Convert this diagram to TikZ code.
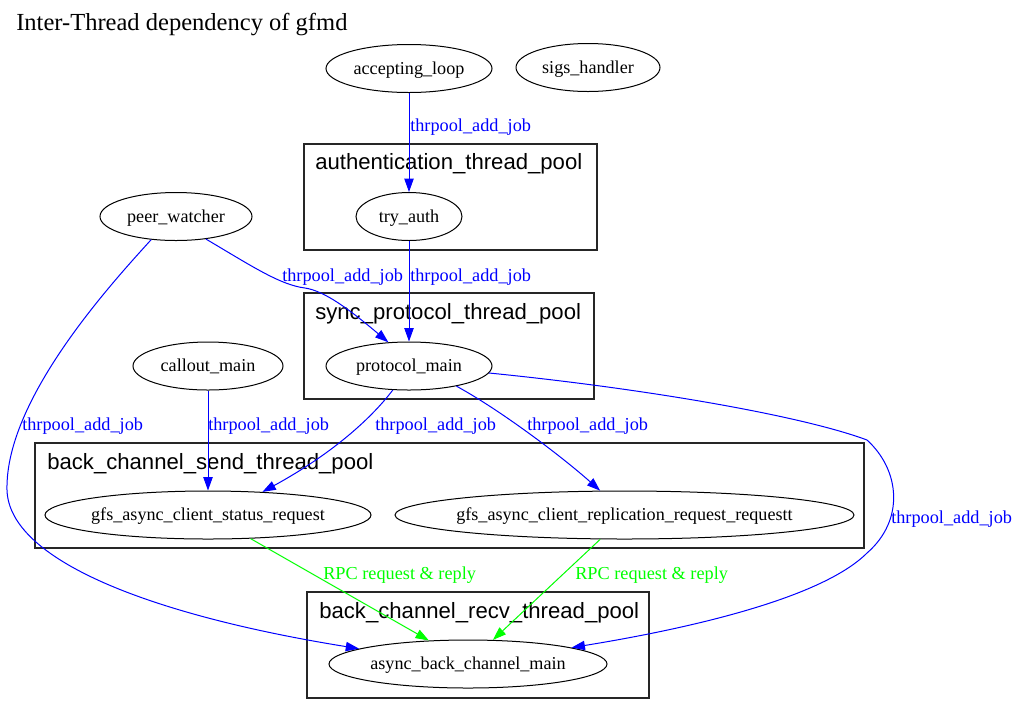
\documentclass[tikz,border=0pt]{standalone}
\usepackage{fontspec}
\setmainfont{Liberation Serif}
\newfontfamily\poolfont{Liberation Sans}
\usetikzlibrary{arrows.meta, shapes.geometric}
\definecolor{jobblue}{RGB}{0,0,255}
\definecolor{rpcgreen}{RGB}{0,255,0}
\newcommand{\tname}[1]{\makebox[0pt]{\raisebox{-4.4pt}[0pt][0pt]{#1}}}

\begin{document}
\begin{tikzpicture}[x=0.75pt, y=-0.75pt, >={Triangle[length=10pt, width=7pt]},
    thread/.style={ellipse, draw, line width=0.75pt, inner sep=0pt, minimum height=36pt, font=\fontsize{13.6}{16}\selectfont},
    pool/.style={draw, line width=0.9pt, black!85},
    poollabel/.style={anchor=west, inner sep=0pt, font=\poolfont\fontsize{16.6}{20}\selectfont},
    job/.style={->, jobblue, line width=0.75pt},
    rpc/.style={->, rpcgreen, line width=0.75pt},
    joblabel/.style={anchor=west, inner sep=0pt, text=jobblue, font=\fontsize{13.7}{16}\selectfont},
    rpclabel/.style={joblabel, text=rpcgreen}]
    \useasboundingbox (0,0) rectangle (1019,715);

    % Title
    \node[anchor=west, inner sep=0pt, font=\fontsize{18.4}{22}\selectfont] (title) at (16,25) {Inter-Thread dependency of gfmd};

    % Thread pools
    \draw[pool] (304,144) rectangle (597,250);
    \node[poollabel] (authlbl) at (315,164) {authentication\_thread\_pool};
    \draw[pool] (304,293) rectangle (594,399);
    \node[poollabel] (synclbl) at (315,314) {sync\_protocol\_thread\_pool};
    \draw[pool] (35,443) rectangle (864,548);
    \node[poollabel] (sendlbl) at (47,464) {back\_channel\_send\_thread\_pool};
    \draw[pool] (307,592) rectangle (649,698);
    \node[poollabel] (recvlbl) at (319,613) {back\_channel\_recv\_thread\_pool};

    % Threads
    \node[thread, minimum width=124.5pt] (acc) at (409,68.5) {\tname{accepting\_loop}};
    \node[thread, minimum width=108pt] (sig) at (588,67.5) {\tname{sigs\_handler}};
    \node[thread, minimum width=79.5pt] (ta) at (409,216.5) {\tname{try\_auth}};
    \node[thread, minimum width=114pt] (pw) at (176,216.5) {\tname{peer\_watcher}};
    \node[thread, minimum width=124.5pt] (pm) at (409,366) {\tname{protocol\_main}};
    \node[thread, minimum width=112.5pt] (cm) at (208,366) {\tname{callout\_main}};
    \node[thread, minimum width=244.5pt] (gs) at (208,515) {\tname{gfs\_async\_client\_status\_request}};
    \node[thread, minimum width=344.25pt] (gr) at (624.5,515) {\tname{gfs\_async\_client\_replication\_request\_requestt}};
    \node[thread, minimum width=208.5pt] (ab) at (468,664) {\tname{async\_back\_channel\_main}};

    % Job submissions
    \draw[job] (acc) -- (ta);
    \draw[job] (ta) -- (pm);
    \draw[job] (pw.-37) .. controls (250,265) and (280,285) .. (305,288)
        .. controls (325,291) and (350,310) .. (pm.131);
    \draw[job] (pw.-137) .. controls (110,285) and (5,400) .. (7,490)
        .. controls (9,560) and (150,615) .. (ab.172);
    \draw[job] (cm) -- (gs);
    \draw[job] (pm.-124) .. controls (370,420) and (330,455) .. (gs.23.6);
    \draw[job] (pm.-23.5) .. controls (500,410) and (560,455) .. (gr.135.7);
    \draw[job] (pm.-5.4) .. controls (640,388) and (800,415) .. (867,440)
        .. controls (900,470) and (905,520) .. (867,553)
        .. controls (820,600) and (680,630) .. (ab.9);
    \node[joblabel] (l1) at (410,127) {thrpool\_add\_job};
    \node[joblabel] (l2) at (282,277) {thrpool\_add\_job};
    \node[joblabel] (l3) at (410,277) {thrpool\_add\_job};
    \node[joblabel] (l4) at (22,426) {thrpool\_add\_job};
    \node[joblabel] (l5) at (208,426) {thrpool\_add\_job};
    \node[joblabel] (l6) at (375,426) {thrpool\_add\_job};
    \node[joblabel] (l7) at (527,426) {thrpool\_add\_job};
    \node[joblabel] (l8) at (891,519) {thrpool\_add\_job};

    % RPC back channel
    \draw[rpc] (gs.-29.5) -- (ab.149.5);
    \draw[rpc] (gr.-135.7) -- (ab.44.5);
    \node[rpclabel] (r1) at (323,575) {RPC request \& reply};
    \node[rpclabel] (r2) at (575,575) {RPC request \& reply};
\end{tikzpicture}
\end{document}
